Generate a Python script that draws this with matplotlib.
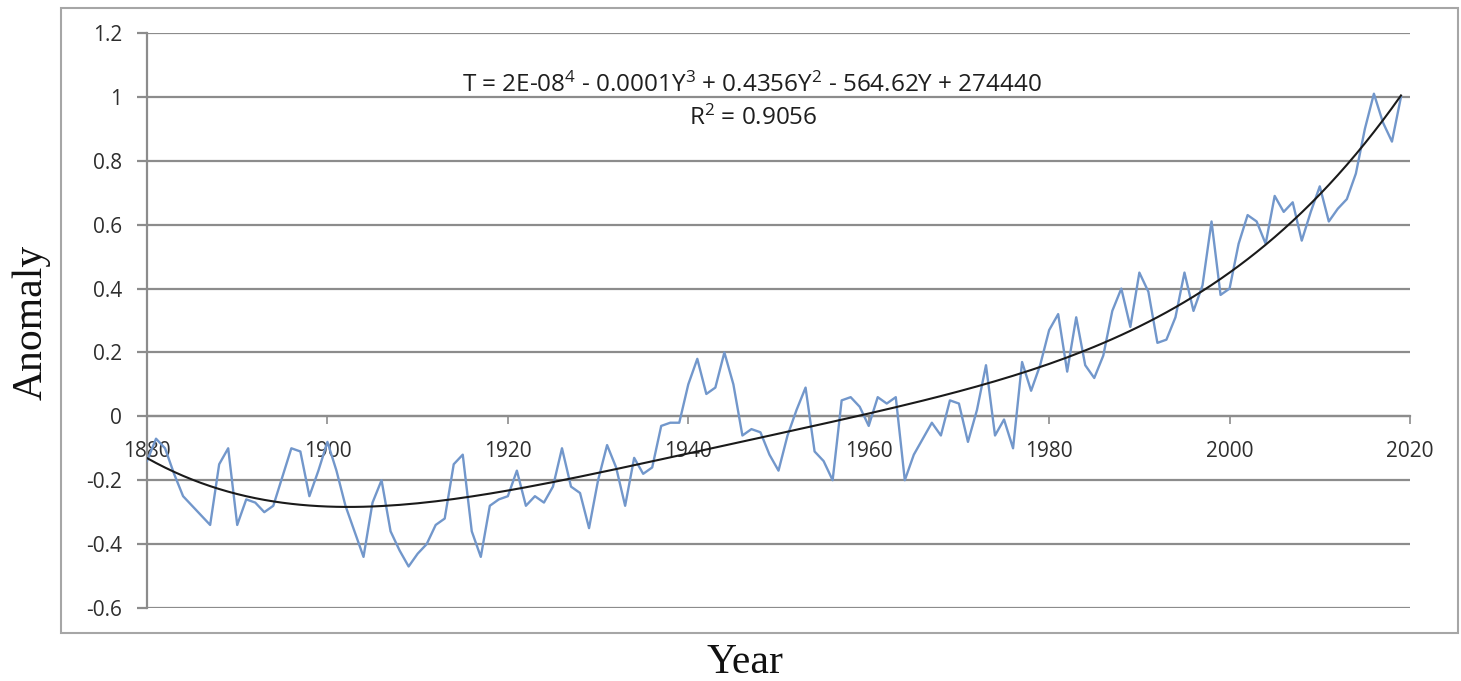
import numpy as np
import matplotlib
matplotlib.use("Agg")
import matplotlib.pyplot as plt
from matplotlib.patches import Rectangle

# ---- data ----
years = list(range(1880, 2020))
anomaly = [
    -0.14, -0.07, -0.10, -0.18, -0.25, -0.28, -0.31, -0.34, -0.15, -0.10,   # 1880s
    -0.34, -0.26, -0.27, -0.30, -0.28, -0.19, -0.10, -0.11, -0.25, -0.17,   # 1890s
    -0.08, -0.17, -0.28, -0.36, -0.44, -0.27, -0.20, -0.36, -0.42, -0.47,   # 1900s
    -0.43, -0.40, -0.34, -0.32, -0.15, -0.12, -0.36, -0.44, -0.28, -0.26,   # 1910s
    -0.25, -0.17, -0.28, -0.25, -0.27, -0.22, -0.10, -0.22, -0.24, -0.35,   # 1920s
    -0.20, -0.09, -0.16, -0.28, -0.13, -0.18, -0.16, -0.03, -0.02, -0.02,   # 1930s
     0.10,  0.18,  0.07,  0.09,  0.20,  0.10, -0.06, -0.04, -0.05, -0.12,   # 1940s
    -0.17, -0.06,  0.02,  0.09, -0.11, -0.14, -0.20,  0.05,  0.06,  0.03,   # 1950s
    -0.03,  0.06,  0.04,  0.06, -0.20, -0.12, -0.07, -0.02, -0.06,  0.05,   # 1960s
     0.04, -0.08,  0.02,  0.16, -0.06, -0.01, -0.10,  0.17,  0.08,  0.16,   # 1970s
     0.27,  0.32,  0.14,  0.31,  0.16,  0.12,  0.19,  0.33,  0.40,  0.28,   # 1980s
     0.45,  0.39,  0.23,  0.24,  0.31,  0.45,  0.33,  0.41,  0.61,  0.38,   # 1990s
     0.40,  0.54,  0.63,  0.61,  0.54,  0.69,  0.64,  0.67,  0.55,  0.64,   # 2000s
     0.72,  0.61,  0.65,  0.68,  0.76,  0.90,  1.01,  0.92,  0.86,  1.00,   # 2010s
]
x_ticks = [1880, 1900, 1920, 1940, 1960, 1980, 2000, 2020]
y_ticks = [-0.6, -0.4, -0.2, 0, 0.2, 0.4, 0.6, 0.8, 1, 1.2]
y_tick_labels = ["-0.6", "-0.4", "-0.2", "0", "0.2", "0.4", "0.6", "0.8", "1", "1.2"]
equation = "T = 2E-08$^{4}$ - 0.0001Y$^{3}$ + 0.4356Y$^{2}$ - 564.62Y + 274440"
r2_text = "R$^{2}$ = 0.9056"

# ---- style ----
plt.rcParams["font.family"] = ["Open Sans", "DejaVu Sans"]
plt.rcParams["mathtext.fontset"] = "custom"
plt.rcParams["mathtext.rm"] = "Open Sans"
plt.rcParams["mathtext.it"] = "Open Sans"
plt.rcParams["mathtext.default"] = "regular"

W, H = 1461, 681
fig = plt.figure(figsize=(W / 100, H / 100), dpi=100)
L, R, T, B = 147, 1410, 33, 608
ax = fig.add_axes([L / W, 1 - B / H, (R - L) / W, (B - T) / H])

grid_col = "#8c8c8c"
ax.set_xlim(1880, 2020)
ax.set_ylim(-0.6, 1.2)
ax.set_yticks(y_ticks)
ax.set_yticklabels(y_tick_labels)
ax.set_xticks(x_ticks)
ax.yaxis.grid(True, color=grid_col, lw=1.6)
ax.set_axisbelow(True)

for s in ["top", "right"]:
    ax.spines[s].set_visible(False)
ax.spines["left"].set_color(grid_col)
ax.spines["left"].set_linewidth(1.6)
ax.spines["bottom"].set_position(("data", 0))
ax.spines["bottom"].set_color(grid_col)
ax.spines["bottom"].set_linewidth(1.6)

ax.tick_params(axis="y", direction="out", length=7, width=1.6, color=grid_col,
               pad=11, labelsize=15, labelcolor="#2e2e2e")
ax.tick_params(axis="x", direction="out", length=6, width=1.2, color=grid_col,
               pad=12, labelsize=15, labelcolor="#2e2e2e")

# data line
ax.plot(years, anomaly, color="#7297cb", lw=1.7, zorder=3,
        solid_joinstyle="round")

# polynomial trend (4th order) fitted to the data
yr = np.array(years, dtype=float)
coef = np.polyfit(yr - 1950, np.array(anomaly), 4)
ax.plot(yr, np.polyval(coef, yr - 1950), color="#1a1a1a", lw=1.5, zorder=4)

ax.text((752 - L) / (R - L), 1 - (85 - T) / (B - T), equation, transform=ax.transAxes,
        ha="center", va="center", fontsize=17.5, color="#1e1e1e")
ax.text((753 - L) / (R - L), 1 - (118 - T) / (B - T), r2_text, transform=ax.transAxes,
        ha="center", va="center", fontsize=17.5, color="#1e1e1e")

# axis titles
fig.text(31 / W, 1 - 322 / H, "Anomaly", rotation=90, ha="center", va="center",
         fontsize=30, family="Liberation Serif", color="#111111")
fig.text(745 / W, 1 - 663 / H, "Year", ha="center", va="center",
         fontsize=30, family="Liberation Serif", color="#111111")

# chart frame
fig.patches.append(Rectangle((61 / W, 1 - 633 / H), (1458 - 61) / W, (633 - 8) / H,
                             transform=fig.transFigure, fill=False,
                             edgecolor="#a6a6a6", lw=1.5))

fig.savefig("out.png", dpi=100, facecolor="white")
